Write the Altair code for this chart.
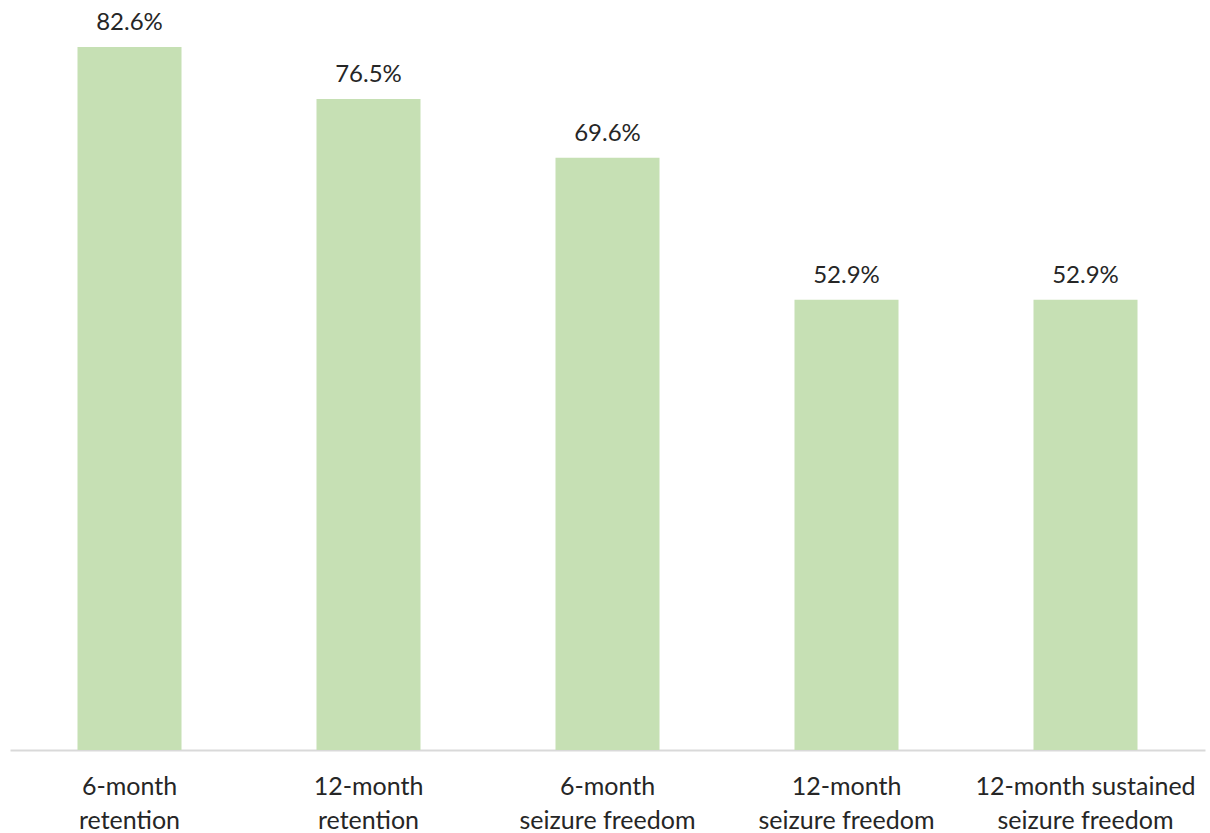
import altair as alt
import pandas as pd

categories = [
    "6-month|retention",
    "12-month|retention",
    "6-month|seizure freedom",
    "12-month|seizure freedom",
    "12-month sustained|seizure freedom",
]
values = [82.6, 76.5, 69.6, 52.9, 52.9]
value_labels = ["82.6%", "76.5%", "69.6%", "52.9%", "52.9%"]

df = pd.DataFrame({"cat": categories, "val": values, "lab": value_labels})

FONT = "Lato"

x = alt.X(
    "cat:N",
    sort=categories,
    title=None,
    scale=alt.Scale(paddingInner=0, paddingOuter=0),
    axis=alt.Axis(
        labelExpr="split(datum.label, '|')",
        labelAngle=0,
        labelFont=FONT,
        labelFontSize=25,
        labelColor="#262626",
        labelLineHeight=34,
        labelPadding=24,
        labelLimit=400,
        ticks=False,
        domainColor="#d9d9d9",
        domainWidth=2,
        labelBaseline="top",
    ),
)
y = alt.Y("val:Q", scale=alt.Scale(domain=[0, 88.12], nice=False, zero=True), axis=None)

bars = alt.Chart(df).mark_bar(size=104, color="#c6e0b4").encode(x=x, y=y)
texts = alt.Chart(df).mark_text(
    font=FONT, fontSize=24, color="#262626", baseline="alphabetic", dy=-17
).encode(x=x, y=y, text="lab:N")

chart = (
    alt.layer(bars, texts)
    .properties(
        width=1195,
        height=750,
        autosize=alt.AutoSizeParams(type="none"),
        padding={"left": 10, "top": 0, "right": 5, "bottom": 83},
        background="white",
    )
    .configure_view(stroke=None)
)

chart.save("out.html", embed_options={"renderer": "svg", "actions": False})
